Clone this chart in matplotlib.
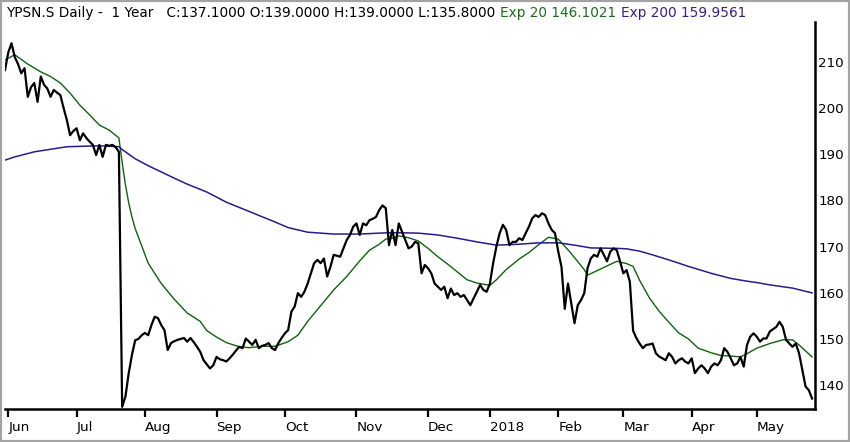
import numpy as np
import pandas as pd
import matplotlib
matplotlib.use("Agg")
import matplotlib.pyplot as plt
from matplotlib.patches import Rectangle

# ---------------- data ----------------
holidays = ['2017-06-05', '2017-08-01', '2017-12-25', '2017-12-26', '2018-01-01',
            '2018-01-02', '2018-03-30', '2018-04-02', '2018-05-01', '2018-05-10',
            '2018-05-21']
sessions = pd.bdate_range('2017-05-31', '2018-05-29', freq='C', holidays=holidays)

closes = [
    208.2,
    212.0, 214.0, 211.0, 209.5, 207.5, 208.6, 202.4, 204.5, 205.4, 201.3,
    206.8, 205.0, 204.2, 202.4, 203.9, 203.3, 202.8, 200.0, 197.4, 194.1,
    195.0, 195.6, 193.0, 194.5, 193.5, 192.7, 192.0, 189.8, 192.0, 189.4,
    192.0, 191.8, 192.0, 191.5, 190.5, 135.3, 137.5, 142.5, 146.5, 149.7,
    150.0, 150.8, 151.3, 150.8, 153.0, 154.8, 154.5, 153.0, 151.9, 147.6,
    149.1, 149.5, 149.8, 150.0, 150.2, 149.4, 150.2, 149.3, 148.3, 147.2,
    145.4, 144.5, 143.6, 144.3, 146.1, 145.6, 145.4, 145.1, 145.8, 146.6,
    147.5, 148.3, 148.0, 150.1, 149.4, 148.7, 149.8, 148.0, 148.5, 148.7,
    149.1, 148.0, 147.6, 149.1, 150.2, 151.2, 151.9, 155.9, 157.0, 159.9,
    159.1, 160.2, 162.0, 164.2, 166.4, 167.1, 166.4, 167.4, 163.5, 165.6,
    168.2, 168.0, 167.8, 169.6, 171.4, 172.5, 174.3, 175.0, 172.5, 175.0,
    174.6, 175.7, 176.0, 176.4, 177.9, 178.9, 178.3, 170.3, 173.6, 170.3,
    175.0, 173.2, 171.4, 169.6, 170.0, 171.0, 170.7, 164.2, 166.0, 165.3,
    164.2, 162.0, 161.3, 160.6, 161.3, 158.8, 160.9, 159.5, 159.9, 159.1,
    159.5, 158.4, 157.3, 158.8, 160.2, 161.7, 160.6, 160.2, 162.0, 166.4,
    170.0, 172.9, 174.7, 173.6, 170.3, 171.0, 171.0, 171.8, 171.4, 172.9,
    174.3, 176.1, 176.8, 176.4, 177.2, 176.8, 175.0, 173.6, 172.9, 168.9,
    165.6, 156.5, 162.0, 157.7, 153.4, 157.3, 158.4, 159.9, 165.3, 167.4,
    168.2, 167.8, 169.6, 168.2, 166.8, 168.9, 169.6, 169.2, 166.8, 164.2,
    164.9, 162.4, 151.8, 150.2, 149.0, 148.0, 148.7, 148.8, 149.0, 146.9,
    146.2, 145.8, 145.4, 146.9, 146.1, 144.7, 145.4, 145.8, 145.1, 144.7,
    145.8, 142.6, 143.6, 144.3, 143.6, 142.6, 144.0, 144.7, 144.3, 145.4,
    148.0, 147.2, 145.8, 144.3, 144.7, 146.1, 144.0, 148.7, 150.5, 151.2,
    150.5, 149.4, 150.1, 150.1, 151.6, 152.1, 152.6, 153.7, 152.6, 149.8,
    149.0, 148.3, 149.0, 146.9, 143.3, 139.7, 138.9, 137.1,
]

ema20_dates = [
    '2017-05-31', '2017-06-06', '2017-06-12', '2017-06-16', '2017-06-21', '2017-06-26',
    '2017-06-29', '2017-07-04', '2017-07-07', '2017-07-12', '2017-07-17', '2017-07-20',
    '2017-07-21', '2017-07-24', '2017-07-25', '2017-07-26', '2017-07-27', '2017-08-03',
    '2017-08-09', '2017-08-15', '2017-08-21', '2017-08-25', '2017-08-29', '2017-09-01',
    '2017-09-06', '2017-09-12', '2017-09-15', '2017-09-21', '2017-09-27', '2017-10-03',
    '2017-10-06', '2017-10-11', '2017-10-17', '2017-10-23', '2017-10-27', '2017-11-02',
    '2017-11-07', '2017-11-10', '2017-11-14', '2017-11-16', '2017-11-20', '2017-11-23',
    '2017-11-28', '2017-12-01', '2017-12-06', '2017-12-11', '2017-12-14', '2017-12-19',
    '2017-12-22', '2018-01-03', '2018-01-05', '2018-01-10', '2018-01-16', '2018-01-19',
    '2018-01-24', '2018-01-29', '2018-02-01', '2018-02-06', '2018-02-08', '2018-02-13',
    '2018-02-14', '2018-02-19', '2018-02-22', '2018-02-27', '2018-03-02', '2018-03-06',
    '2018-03-08', '2018-03-13', '2018-03-16', '2018-03-21', '2018-03-26', '2018-03-29',
    '2018-04-05', '2018-04-11', '2018-04-16', '2018-04-19', '2018-04-24', '2018-04-26',
    '2018-05-02', '2018-05-08', '2018-05-15', '2018-05-18', '2018-05-23', '2018-05-29',
]
ema20_values = [
    210.4, 211.5, 209.5, 207.8, 206.8, 205.4,
    203.2, 200.6, 198.5, 196.3, 195.2, 193.5,
    188.2, 183.4, 179.5, 176.4, 173.9, 166.4,
    162.0, 158.6, 155.6, 153.8, 151.8, 150.4,
    149.2, 148.3, 148.1, 148.4, 148.4, 149.4,
    150.8, 153.8, 157.2, 160.6, 163.5, 166.9,
    169.2, 170.5, 171.6, 171.8, 172.3, 171.9,
    171.2, 169.6, 167.8, 166.2, 164.5, 162.8,
    162.1, 161.6, 162.8, 165.0, 167.3, 168.7,
    170.4, 172.0, 171.6, 169.3, 167.6, 165.0,
    163.8, 164.8, 165.8, 166.8, 166.3, 165.7,
    162.7, 158.9, 156.0, 153.6, 151.3, 150.0,
    148.0, 147.0, 146.4, 146.3, 146.1, 146.8,
    148.0, 149.0, 149.8, 149.8, 148.7, 146.1,
]

ema200_dates = [
    '2017-05-31', '2017-06-06', '2017-06-14', '2017-06-28', '2017-07-12', '2017-07-20',
    '2017-07-21', '2017-07-27', '2017-08-03', '2017-08-15', '2017-08-21', '2017-08-29',
    '2017-09-06', '2017-09-15', '2017-09-27', '2017-10-03', '2017-10-11', '2017-10-23',
    '2017-11-02', '2017-11-10', '2017-11-16', '2017-11-28', '2017-12-06', '2017-12-14',
    '2017-12-22', '2018-01-05', '2018-01-16', '2018-01-24', '2018-02-01', '2018-02-08',
    '2018-02-15', '2018-02-27', '2018-03-02', '2018-03-08', '2018-03-13', '2018-03-21',
    '2018-03-29', '2018-04-11', '2018-04-19', '2018-04-26', '2018-05-02', '2018-05-08',
    '2018-05-18', '2018-05-29',
]
ema200_values = [
    188.7, 189.4, 190.5, 191.6, 191.8, 191.6,
    191.0, 189.0, 187.5, 184.8, 183.5, 181.8,
    179.6, 177.6, 175.3, 174.1, 173.1, 172.7,
    172.7, 172.9, 173.0, 172.9, 172.5, 171.8,
    171.0, 170.3, 170.5, 170.8, 170.8, 170.3,
    169.7, 169.6, 169.5, 169.0, 168.4, 167.1,
    165.7, 164.2, 163.1, 162.5, 162.2, 161.7,
    161.0, 159.96,
]

month_labels = ['Jun', 'Jul', 'Aug', 'Sep', 'Oct', 'Nov', 'Dec', '2018',
                'Feb', 'Mar', 'Apr', 'May']
y_ticks = [140, 150, 160, 170, 180, 190, 200, 210]

title_black = "YPSN.S Daily -  1 Year   C:137.1000 O:139.0000 H:139.0000 L:135.8000"
title_green = "Exp 20 146.1021"
title_purple = "Exp 200 159.9561"

# ---------------- figure ----------------
W, H = 850, 442
fig = plt.figure(figsize=(W / 100, H / 100), dpi=100)
fig.patch.set_facecolor('white')
ax = fig.add_axes([5 / W, 33 / H, 810 / W, 387 / H])
ax.set_facecolor('white')

n = min(len(sessions), len(closes))
x_close = np.arange(n)
ax.plot(x_close, closes[:n], color='black', lw=1.6, solid_joinstyle='round', zorder=3)

x20 = sessions.get_indexer(pd.to_datetime(ema20_dates))
ax.plot(x20, ema20_values, color='#0d640d', lw=1.0, zorder=2)
x200 = sessions.get_indexer(pd.to_datetime(ema200_dates))
ax.plot(x200, ema200_values, color='#2c1a8c', lw=1.1, zorder=2)

ax.set_xlim(0.0, 248.9)
ax.set_ylim(134.83, 218.6)

# month ticks at first session of each month
s = pd.Series(np.arange(len(sessions)), index=sessions)
firsts = s.groupby([sessions.year, sessions.month]).min().values
firsts = [f for f in firsts if sessions[f].day <= 5][:len(month_labels)]
ax.set_xticks(firsts)
ax.set_xticklabels(month_labels[:len(firsts)])
for lab in ax.get_xticklabels():
    lab.set_horizontalalignment('left')
ax.tick_params(axis='x', direction='out', length=5.5, width=1.6, color='black',
               labelsize=9.7, pad=3)

ax.yaxis.tick_right()
ax.set_yticks(y_ticks)
ax.set_yticklabels([str(v) for v in y_ticks])
ax.tick_params(axis='y', length=0, labelsize=9.7, pad=2.5)

for side in ['top', 'left']:
    ax.spines[side].set_visible(False)
ax.spines['bottom'].set_linewidth(1.8)
ax.spines['right'].set_linewidth(1.8)

# ---------------- header text ----------------
renderer = fig.canvas.get_renderer()
ty = 1 - 13 / H
fs = 9.85
t1 = fig.text(6 / W, ty, title_black, fontsize=fs, color='black', va='center')
bb = t1.get_window_extent(renderer)
t2 = fig.text((bb.x1 + 5) / W, ty, title_green, fontsize=fs, color='#1a6e1a', va='center')
bb = t2.get_window_extent(renderer)
t3 = fig.text((bb.x1 + 5) / W, ty, title_purple, fontsize=fs, color='#3a1f85', va='center')

# outer frame
fig.patches.append(Rectangle((0, 0), 1, 1, transform=fig.transFigure, fill=False,
                             edgecolor='#a3a3a3', lw=3.0, zorder=10))

fig.savefig('out.png', dpi=100)
